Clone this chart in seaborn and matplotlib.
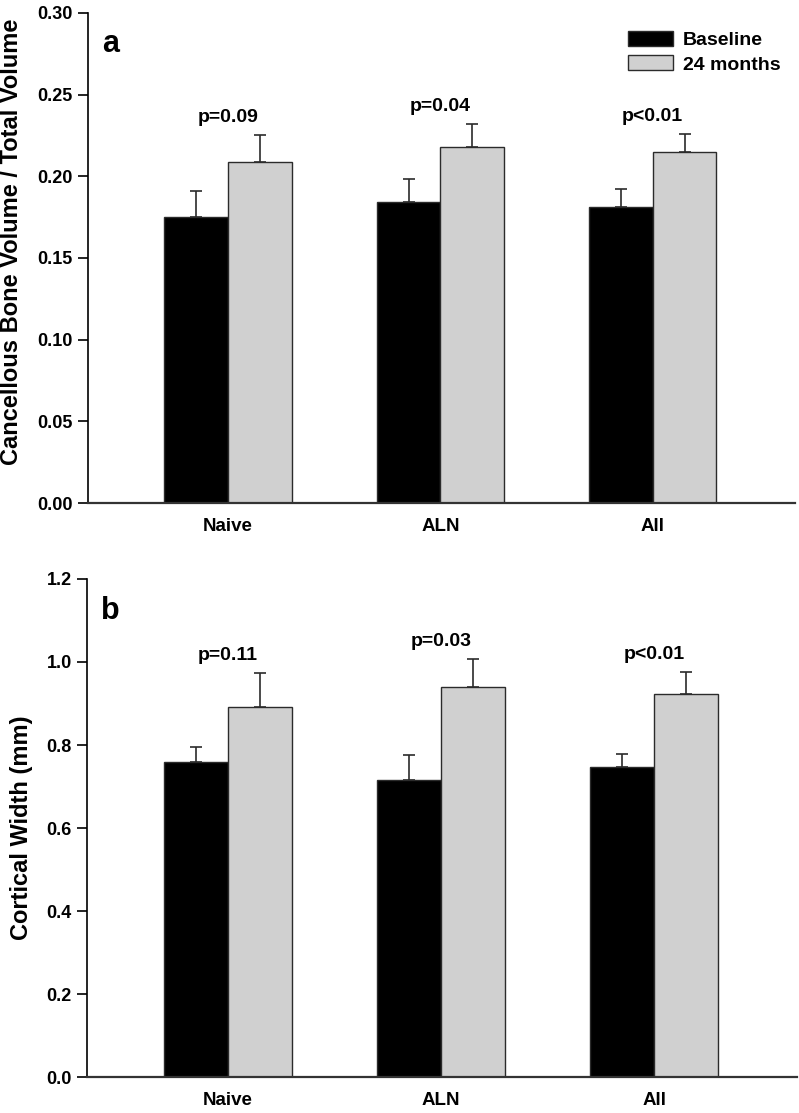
import pandas as pd
import matplotlib
matplotlib.use('Agg')
import matplotlib.pyplot as plt
import matplotlib.patches as mpatches
import seaborn as sns

# Values
groups = ['Naive', 'ALN', 'All']
timepoints = ['Baseline', '24 months']

# panel a: cancellous BV/TV
bvtv_baseline = [0.175, 0.184, 0.181]
bvtv_baseline_err = [0.016, 0.014, 0.011]
bvtv_24m = [0.209, 0.218, 0.215]
bvtv_24m_err = [0.016, 0.014, 0.011]
bvtv_pvals = ['p=0.09', 'p=0.04', 'p<0.01']

# panel b: cortical width (mm)
cw_baseline = [0.759, 0.716, 0.746]
cw_baseline_err = [0.037, 0.060, 0.032]
cw_24m = [0.892, 0.939, 0.923]
cw_24m_err = [0.081, 0.068, 0.053]
cw_pvals = ['p=0.11', 'p=0.03', 'p<0.01']

sns.set_style('ticks')
plt.rcParams['font.family'] = ['Liberation Sans', 'DejaVu Sans']
plt.rcParams['font.weight'] = 'bold'
plt.rcParams['text.color'] = 'black'
plt.rcParams['axes.labelcolor'] = 'black'
plt.rcParams['xtick.color'] = 'black'
plt.rcParams['ytick.color'] = 'black'
plt.rcParams['axes.edgecolor'] = 'black'

colors = ['black', '#d0d0d0']
edge = '#2b2b2b'


def make_df(base, late):
    return pd.DataFrame({
        'group': groups * 2,
        'time': [timepoints[0]] * 3 + [timepoints[1]] * 3,
        'value': list(base) + list(late),
    })


def draw_panel(ax, base, base_err, late, late_err, pvals, ylim, yticks, fmt, ylabel, letter):
    df = make_df(base, late)
    sns.barplot(data=df, x='group', y='value', hue='time', hue_order=timepoints,
                palette=colors, edgecolor=edge, linewidth=1.0, width=0.6, gap=0,
                errorbar=None, legend=False, ax=ax)

    # upper error bars only
    tops = []
    for cont, errs in zip(ax.containers, [base_err, late_err]):
        xs = [b.get_x() + b.get_width() / 2 for b in cont]
        hs = [b.get_height() for b in cont]
        ax.errorbar(xs, hs, yerr=[[0] * len(errs), errs], fmt='none',
                    ecolor=edge, elinewidth=1.2, capsize=4, capthick=1.2, zorder=0.5)
        tops.append([h + e for h, e in zip(hs, errs)])

    # p-value labels above the higher bar pair
    for i, p in enumerate(pvals):
        y = max(tops[0][i], tops[1][i])
        ax.annotate(p, xy=(i, y), xytext=(0, 13), textcoords='offset pixels',
                    ha='center', va='baseline', fontsize=14, fontweight='bold')

    ax.set_xlim(-0.66, 2.67)
    ax.set_ylim(*ylim)
    ax.set_yticks(yticks)
    ax.set_yticklabels([fmt.format(t) for t in yticks])
    ax.set_xlabel('')
    ax.set_ylabel(ylabel, fontsize=17, fontweight='bold')
    ax.tick_params(axis='y', length=7, width=1.2, labelsize=13, pad=4)
    ax.tick_params(axis='x', length=0, labelsize=13.5, pad=11)
    for lbl in ax.get_xticklabels() + ax.get_yticklabels():
        lbl.set_fontweight('bold')
    sns.despine(ax=ax)
    ax.spines['left'].set_linewidth(1.2)
    ax.spines['bottom'].set_linewidth(1.6)
    ax.spines['bottom'].set_color('#333333')
    ax.text(0.02, 0.92, letter, transform=ax.transAxes, fontsize=22,
            fontweight='bold', va='baseline', ha='left')


fig = plt.figure(figsize=(7.99, 11.13), dpi=100)
ax_a = fig.add_axes([0.110, 0.548, 0.885, 0.4405])
ax_b = fig.add_axes([0.109, 0.0323, 0.889, 0.4475])

draw_panel(ax_a, bvtv_baseline, bvtv_baseline_err, bvtv_24m, bvtv_24m_err, bvtv_pvals,
           (0, 0.30), [0.0, 0.05, 0.10, 0.15, 0.20, 0.25, 0.30], '{:.2f}',
           'Cancellous Bone Volume / Total Volume', 'a')
draw_panel(ax_b, cw_baseline, cw_baseline_err, cw_24m, cw_24m_err, cw_pvals,
           (0, 1.2), [0.0, 0.2, 0.4, 0.6, 0.8, 1.0, 1.2], '{:.1f}',
           'Cortical Width (mm)', 'b')

ax_a.yaxis.set_label_coords(-0.092, 0.533)
ax_b.yaxis.set_label_coords(-0.076, 0.5)

handles = [mpatches.Patch(facecolor=c, edgecolor=edge, linewidth=1.0, label=t)
           for c, t in zip(colors, timepoints)]
ax_a.legend(handles=handles, loc='upper right', bbox_to_anchor=(1.004, 0.998),
            frameon=False, prop={'size': 14, 'weight': 'bold'},
            handlelength=2.3, handleheight=0.8, handletextpad=0.5, labelspacing=0.3)

fig.savefig('out.png', dpi=100)
plt.close(fig)
